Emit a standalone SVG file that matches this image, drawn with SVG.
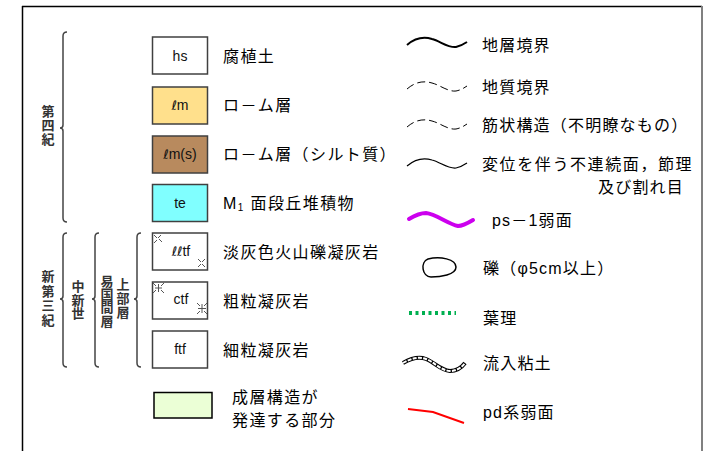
<svg xmlns="http://www.w3.org/2000/svg" width="704" height="451" viewBox="0 0 704 451">
<style>
.lbl{font-family:"Liberation Sans","Noto Sans CJK JP",sans-serif;font-size:16px;fill:#000;letter-spacing:1.4px}
.rl{font-family:"Liberation Sans","Noto Sans CJK JP",sans-serif;font-size:16px;fill:#000;letter-spacing:1.2px}
.bx{stroke:#404040;stroke-width:1.5}
.bt{font-family:"Liberation Sans","Noto Sans CJK JP",sans-serif;font-size:14px;fill:#111;text-anchor:middle}
.ell{font-family:"DejaVu Sans",sans-serif;font-size:13px}
.vt{font-family:"Noto Sans CJK JP",sans-serif;font-size:13px;font-weight:bold;fill:#333;text-anchor:middle;writing-mode:vertical-rl}
.brace{fill:none;stroke:#444;stroke-width:1.5}
.mk{fill:none;stroke:#555;stroke-width:1}
</style>
<rect width="704" height="451" fill="#fff"/>
<!-- frame -->
<g id="frame">
<line x1="22" y1="6.5" x2="702" y2="6.5" stroke="#000" stroke-width="1.5"/>
<line x1="22.5" y1="6" x2="22.5" y2="451" stroke="#000" stroke-width="1.5"/>
<line x1="702" y1="6" x2="702" y2="451" stroke="#808080" stroke-width="2"/>
</g>
<!-- brackets -->
<g id="brackets">
<path class="brace" d="M67,32 Q63,32 63,36 L63,125 Q63,128 60,128 Q63,128 63,131 L63,218 Q63,222 67,222"/>
<path class="brace" d="M67,233 Q63,233 63,237 L63,296 Q63,299 60,299 Q63,299 63,302 L63,363 Q63,367 67,367"/>
<path class="brace" d="M99,233 Q95,233 95,237 L95,296 Q95,299 92,299 Q95,299 95,302 L95,363 Q95,367 99,367"/>
<path class="brace" d="M141,233 Q137,233 137,237 L137,296 Q137,299 134,299 Q137,299 137,302 L137,363 Q137,367 141,367"/>
</g>
<g id="era-labels">
<text class="vt" x="48" y="126" style="letter-spacing:1px">第四紀</text>
<text class="vt" x="48" y="299" style="letter-spacing:1.5px">新第三紀</text>
<text class="vt" x="78" y="300" style="letter-spacing:0.5px">中新世</text>
<text class="vt" x="107" y="301" style="letter-spacing:0.3px">易国間層</text>
<text class="vt" x="123" y="299" style="letter-spacing:1px">上部層</text>
</g>
<!-- left legend -->
<g id="hs">
<rect class="bx" x="152.5" y="37" width="55" height="37" fill="#fff"/>
<text class="bt" x="180" y="61">hs</text>
<text class="lbl" x="223" y="62">腐植土</text>
</g>
<g id="lm">
<rect class="bx" x="152.5" y="87" width="55" height="37" fill="#FFE08C"/>
<text class="bt" x="180" y="110"><tspan class="ell">ℓ</tspan>m</text>
<text class="lbl" x="223" y="111">ロ－ム層</text>
</g>
<g id="lms">
<rect class="bx" x="152.5" y="136" width="55" height="37" fill="#B88A5E"/>
<text class="bt" x="180" y="159"><tspan class="ell">ℓ</tspan>m(s)</text>
<text class="lbl" x="223" y="160">ロ－ム層（シルト質）</text>
</g>
<g id="te">
<rect class="bx" x="152.5" y="184.5" width="55" height="37" fill="#80FFFF"/>
<text class="bt" x="180" y="208">te</text>
<text class="lbl" x="223" y="209">M<tspan font-size="10" dy="2">1</tspan><tspan dy="-2"> 面段丘堆積物</tspan></text>
</g>
<g id="lltf">
<rect class="bx" x="152.5" y="233" width="55" height="37" fill="#fff"/>
<g class="mk">
<path d="M154,235 l3,3 M161,235 l-3,3 M154,243 l3,-3 M162,242 l-3,-3"/>
<path d="M198,259 l3,3 M205,259 l-3,3 M198,267 l3,-3 M205,267 l-3,-3"/>
</g>
<text class="bt" x="181" y="256"><tspan class="ell">ℓℓ</tspan>tf</text>
<text class="lbl" x="223" y="258">淡灰色火山礫凝灰岩</text>
</g>
<g id="ctf">
<rect class="bx" x="152.5" y="282" width="55" height="37" fill="#fff"/>
<g class="mk">
<path d="M153,283 l3,3 M164,283 l-3,3 M153,293 l3,-3 M164,293 l-3,-3 M155,288 h7 M158.5,284 v8"/>
<path d="M197,303 l3,3 M207,303 l-3,3 M197,314 l3,-3 M207,314 l-3,-3 M198,308.5 h8 M202,304 v9"/>
</g>
<text class="bt" x="181" y="304">ctf</text>
<text class="lbl" x="223" y="307">粗粒凝灰岩</text>
</g>
<g id="ftf">
<rect class="bx" x="152.5" y="331" width="55" height="37" fill="#fff"/>
<text class="bt" x="180" y="354">ftf</text>
<text class="lbl" x="223" y="356">細粒凝灰岩</text>
</g>
<g id="bedding">
<rect x="154" y="392.5" width="58" height="25.5" fill="#EBFFD6" stroke="#000" stroke-width="1.5"/>
<text class="lbl" x="232" y="403">成層構造が</text>
<text class="lbl" x="232" y="426">発達する部分</text>
</g>
<!-- right legend -->
<g id="connectors">
<path d="M407,45 C414,39 422,36 432,39 C440,41 448,48 456,47 C461,46 464,44 467,42" fill="none" stroke="#000" stroke-width="2"/>
<path d="M407,89 C414,83 422,80 432,83 C440,85 448,92 456,91 C461,90 464,88 467,86" fill="none" stroke="#000" stroke-width="1" stroke-dasharray="8,4"/>
<path d="M407,127 C414,121 422,118 432,121 C440,123 448,130 456,129 C461,128 464,126 467,124" fill="none" stroke="#000" stroke-width="1" stroke-dasharray="8,4"/>
<path d="M407,166 C414,160 422,157 432,160 C440,162 448,169 456,168 C461,167 464,165 467,163" fill="none" stroke="#000" stroke-width="1.2"/>
<path d="M409,219 C414,216 420,213 426,213 C436,214 448,224 458,226 C463,226 468,223 473,220" fill="none" stroke="#CC00EE" stroke-width="4" stroke-linecap="round"/>
<path d="M428,259 C440,256 456,259 456,267 C456,275 440,277 431,277 C422,277 420,262 428,259 Z" fill="none" stroke="#000" stroke-width="1.5"/>
<line x1="409" y1="313" x2="456" y2="313" stroke="#00B050" stroke-width="4" stroke-dasharray="3,3.5"/>
<path d="M403,363 C410,359 418,356 426,359 C434,362 440,370 450,371 C457,371 462,367 465,363" fill="none" stroke="#000" stroke-width="4"/>
<path d="M403,363 C410,359 418,356 426,359 C434,362 440,370 450,371 C457,371 462,367 465,363" fill="none" stroke="#fff" stroke-width="2" stroke-dasharray="4,1.3"/>
<path d="M408,409 L433,412 Q450,418 464,423" fill="none" stroke="#FF0000" stroke-width="2"/>
</g>
<g id="right-labels">
<text class="rl" x="482" y="51">地層境界</text>
<text class="rl" x="482" y="93">地質境界</text>
<text class="rl" x="482" y="131">筋状構造（不明瞭なもの）</text>
<text class="rl" x="482" y="170" style="letter-spacing:1.6px">変位を伴う不連続面，節理</text>
<text class="rl" x="684" y="193" text-anchor="end">及び割れ目</text>
<text class="rl" x="492" y="226">ps－1弱面</text>
<text class="rl" x="483" y="274">礫（φ5cm以上）</text>
<text class="rl" x="483" y="324">葉理</text>
<text class="rl" x="483" y="369">流入粘土</text>
<text class="rl" x="483" y="418">pd系弱面</text>
</g>
</svg>
